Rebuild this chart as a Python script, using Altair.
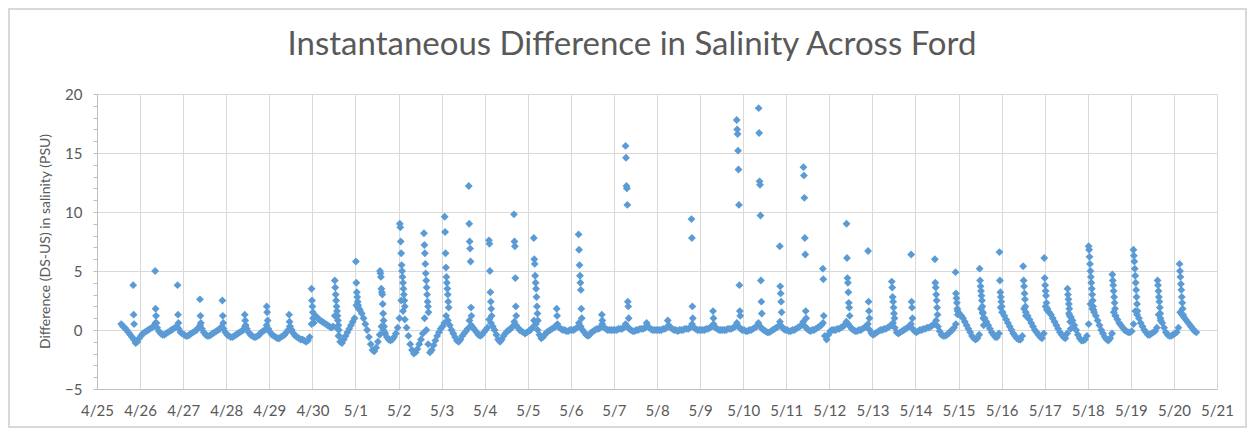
import altair as alt
import pandas as pd

# ---------------------------------------------------------------------------
# Data
# Baseline difference in salinity (PSU), one value per hour
# (00:30, 01:30, ..., 23:30) for each day from 4/25 to 5/20.
# ---------------------------------------------------------------------------
apr25 = [None, None, None, None, None, None, None, None, None, None, None, None,
         None, 0.5, 0.3, 0.2, 0.0, -0.2, -0.4, -0.6, -0.8, -1.1, -1.0, -0.7]
apr26 = [-0.5, -0.3, -0.2, -0.1, 0.0, 0.1, 0.2, 0.3, 0.6, 0.2, -0.1, -0.3,
         -0.4, -0.4, -0.3, -0.2, -0.1, 0.0, 0.1, 0.2, 0.3, 0.1, -0.2, -0.3]
apr27 = [-0.4, -0.5, -0.5, -0.4, -0.3, -0.2, -0.1, 0.0, 0.2, 0.4, 0.1, -0.2,
         -0.4, -0.5, -0.5, -0.4, -0.3, -0.2, -0.1, 0.0, 0.1, 0.3, 0.1, -0.2]
apr28 = [-0.4, -0.5, -0.6, -0.6, -0.5, -0.4, -0.3, -0.2, -0.1, 0.0, 0.3, 0.1,
         -0.2, -0.4, -0.5, -0.6, -0.6, -0.5, -0.4, -0.2, -0.1, 0.0, 0.4, 0.1]
apr29 = [-0.2, -0.4, -0.5, -0.6, -0.7, -0.7, -0.6, -0.5, -0.4, -0.2, 0.0, 0.3,
         0.0, -0.3, -0.5, -0.6, -0.7, -0.8, -0.8, -0.9, -1.0, -0.9, -0.6, 0.5]
apr30 = [1.0, 1.2, 1.1, 0.9, 0.8, 0.7, 0.6, 0.5, 0.4, 0.3, 0.2, 0.3,
         1.2, 0.2, -0.5, -1.0, -1.1, -0.8, -0.5, -0.2, 0.1, 0.4, 0.7, 1.0]
may01 = [2.1, 1.9, 1.7, 1.4, 1.0, 0.5, 0.0, -0.6, -1.2, -1.7, -1.8, -1.5,
         -1.0, -0.4, 0.3, 0.0, -0.3, -0.6, -0.8, -0.9, -0.8, -0.6, -0.3, 0.2]
may02 = [1.0, 2.5, 1.6, 0.9, 0.2, -0.5, -1.2, -1.7, -2.0, -1.9, -1.6, -1.2,
         -0.8, -0.3, 1.0, 0.0, -1.2, -1.9, -1.7, -1.3, -0.9, -0.5, -0.2, 0.1]
may03 = [0.3, 0.6, 1.2, 0.8, 0.4, 0.0, -0.3, -0.6, -0.9, -1.0, -0.8, -0.5,
         -0.3, -0.1, 0.1, 0.8, 0.4, 0.2, 0.0, -0.2, -0.4, -0.5, -0.4, -0.2]
may04 = [0.0, 0.2, 0.9, 0.6, 0.3, 0.0, -0.4, -0.8, -1.0, -0.8, -0.5, -0.3,
         -0.1, 0.0, 0.1, 0.3, 0.7, 0.4, 0.2, 0.0, -0.1, -0.2, -0.3, -0.2]
may05 = [-0.1, 0.0, 0.2, 0.8, 0.5, 0.0, -0.4, -0.7, -0.6, -0.4, -0.2, -0.1,
         0.0, 0.1, 0.2, 0.3, 0.5, 0.2, 0.1, 0.0, 0.0, -0.1, -0.1, 0.0]
may06 = [0.0, 0.0, 0.1, 0.2, 0.6, 0.3, 0.0, -0.2, -0.4, -0.5, -0.4, -0.2,
         -0.1, 0.0, 0.1, 0.1, 0.2, 0.5, 0.2, 0.1, 0.0, 0.0, 0.0, 0.0]
may07 = [0.0, 0.0, 0.1, 0.1, 0.1, 0.2, 0.5, 0.3, 0.1, 0.0, -0.1, -0.1,
         0.0, 0.0, 0.1, 0.1, 0.1, 0.2, 0.4, 0.2, 0.1, 0.0, 0.0, 0.0]
may08 = [0.0, 0.0, 0.0, 0.1, 0.1, 0.2, 0.4, 0.2, 0.1, 0.0, 0.0, -0.1,
         0.0, 0.0, 0.0, 0.1, 0.1, 0.1, 0.2, 0.5, 0.2, 0.1, 0.0, 0.0]
may09 = [0.0, 0.0, 0.0, 0.1, 0.1, 0.2, 0.3, 0.5, 0.2, 0.1, 0.0, 0.0,
         0.0, 0.0, 0.0, 0.1, 0.1, 0.1, 0.2, 0.3, 0.6, 0.3, 0.1, 0.0]
may10 = [0.0, -0.1, -0.1, 0.0, 0.0, 0.1, 0.2, 0.3, 0.6, 0.3, 0.1, 0.0,
         -0.1, -0.2, -0.2, -0.1, 0.0, 0.1, 0.2, 0.3, 0.7, 0.3, 0.1, 0.0]
may11 = [0.0, -0.1, -0.1, 0.0, 0.0, 0.1, 0.2, 0.3, 0.4, 0.7, 0.3, 0.1,
         0.0, -0.1, 0.0, 0.0, 0.1, 0.2, 0.3, 0.4, 0.6, -0.5, -0.8, -0.4]
may12 = [-0.1, 0.0, 0.0, 0.0, 0.1, 0.1, 0.2, 0.3, 0.4, 0.7, 0.5, 0.3,
         0.1, 0.0, -0.1, -0.1, 0.0, 0.0, 0.1, 0.2, 0.3, 0.5, 0.0, -0.3]
may13 = [-0.4, -0.3, -0.2, -0.1, 0.0, 0.0, 0.1, 0.1, 0.2, 0.3, 0.4, 0.6,
         0.2, -0.2, -0.3, -0.2, -0.1, 0.0, 0.1, 0.2, 0.3, 0.5, 0.1, -0.1]
may14 = [-0.2, -0.1, 0.0, 0.0, 0.1, 0.1, 0.2, 0.2, 0.3, 0.4, 0.5, 0.8,
         0.3, -0.1, -0.4, -0.5, -0.5, -0.4, -0.3, -0.1, 0.0, 0.2, 0.5, 1.6]
may15 = [1.4, 1.2, 1.0, 0.7, 0.4, 0.1, -0.2, -0.5, -0.7, -0.8, -0.7, -0.4,
         1.8, 1.4, 1.0, 0.7, 0.4, 0.1, -0.2, -0.4, -0.6, -0.6, -0.3, 1.9]
may16 = [1.5, 1.2, 0.9, 0.6, 0.3, 0.0, -0.3, -0.5, -0.7, -0.8, -0.8, -0.5,
         1.8, 1.5, 1.2, 0.9, 0.6, 0.3, 0.0, -0.2, -0.4, -0.6, -0.7, -0.3]
may17 = [2.0, 1.8, 1.5, 1.3, 1.0, 0.7, 0.4, 0.1, -0.2, -0.4, -0.6, -0.7,
         -0.3, 1.4, 1.1, 0.8, 0.4, 0.0, -0.4, -0.7, -0.9, -0.9, -0.8, -0.5]
may18 = [0.5, 2.2, 1.8, 1.5, 1.2, 0.8, 0.4, 0.0, -0.3, -0.6, -0.8, -0.9,
         -0.7, -0.3, 1.5, 1.2, 0.9, 0.6, 0.4, 0.2, 0.0, -0.1, -0.2, -0.2]
may19 = [-0.1, 0.5, 1.6, 1.3, 1.0, 0.6, 0.3, 0.0, -0.2, -0.4, -0.4, -0.3,
         -0.2, -0.1, 0.2, 1.3, 1.0, 0.6, 0.2, -0.2, -0.4, -0.5, -0.5, -0.4]
may20 = [-0.3, -0.2, 0.2, 1.5, 1.3, 1.1, 0.9, 0.7, 0.5, 0.3, 0.1, -0.1,
         -0.2, None, None, None, None, None, None, None, None, None, None, None]

baseline_days = [apr25, apr26, apr27, apr28, apr29, apr30, may01, may02, may03,
                 may04, may05, may06, may07, may08, may09, may10, may11, may12,
                 may13, may14, may15, may16, may17, may18, may19, may20]

# Flood-tide spikes: start time (days after 4/25 00:00) and the successive
# 15-minute readings (PSU) of each spike.
spike_start = [0.84, 1.35, 1.87, 2.39, 2.91, 3.43, 3.94, 4.46, 4.98, 5.52,
               6.01, 6.57, 7.03, 7.59, 8.07, 8.63, 9.10, 9.68, 10.14, 10.67,
               11.18, 11.72, 12.27, 12.76, 13.25, 13.80, 14.30, 14.85, 15.36,
               15.85, 16.40, 16.85, 17.40, 17.90, 18.45, 18.90, 19.45, 19.93,
               20.49, 20.95, 21.50, 21.99, 22.53, 23.02, 23.57, 24.06, 24.62,
               25.13]
spike_values = [
    [3.8, 1.3, 0.5],
    [5.0, 1.8, 1.2, 0.6],
    [3.8, 1.3, 0.6],
    [2.6, 1.2, 0.6],
    [2.5, 1.2, 0.6],
    [1.3, 0.8, 0.4],
    [2.0, 1.5, 0.8],
    [1.3, 0.7, 0.3],
    [3.5, 2.5, 2.0, 1.5, 1.0, 0.6],
    [4.2, 3.6, 3.0, 2.5, 2.0, 1.6, 1.2, 0.8, 0.4, 0.0, -0.5],
    [5.8, 4.0, 3.2, 2.8, 2.4, 2.1, 1.8],
    [5.0, 4.8, 4.5, 3.5, 3.2, 3.0, 2.2, 1.4, 0.8, 0.3, -0.2],
    [9.0, 8.7, 7.5, 6.5, 5.5, 5.0, 4.5, 4.0, 3.5, 3.0, 2.5, 2.0],
    [8.2, 7.2, 6.5, 5.6, 4.8, 4.2, 3.6, 3.0, 2.4, 2.0, 1.5],
    [9.6, 8.3, 6.5, 5.3, 4.5, 4.0, 3.5, 3.0, 2.4, 1.9],
    [12.2, 9.0, 7.5, 6.9, 5.8, 1.9, 1.2],
    [7.6, 7.3, 5.0, 3.2, 2.4, 1.8, 1.2],
    [9.8, 7.5, 7.1, 4.4, 2.0, 1.2],
    [7.8, 6.0, 5.6, 4.6, 4.0, 3.5, 2.8, 2.0, 1.4, 0.8],
    [1.8, 1.2],
    [8.1, 6.8, 5.5, 4.6, 4.0, 3.4, 1.8, 1.0],
    [1.3, 0.8],
    [15.6, 14.6, 12.2, 12.0, 10.6, 2.4, 2.0, 1.0],
    [0.6],
    [0.8],
    [9.4, 7.8, 2.0, 1.0],
    [1.6, 1.0],
    [17.8, 17.0, 16.6, 15.2, 13.6, 10.6, 3.8, 1.6, 1.2],
    [18.8, 16.7, 12.6, 12.3, 9.7, 4.2, 2.4, 1.4],
    [7.1, 3.7, 3.1, 2.4, 1.5],
    [13.8, 13.1, 11.2, 7.8, 6.4, 1.6, 1.0],
    [5.2, 4.3, 1.2],
    [9.0, 6.1, 4.4, 4.0, 3.2, 2.3, 1.9, 1.2],
    [6.7, 2.4, 1.6, 1.0],
    [4.1, 3.6, 2.8, 2.4, 1.9, 1.4, 1.0],
    [6.4, 2.4, 1.9, 1.0],
    [6.0, 4.0, 3.6, 3.0, 2.5, 1.9, 1.3],
    [4.9, 3.1, 2.7, 2.3, 1.8, 1.3],
    [5.2, 4.2, 3.7, 3.3, 2.9, 2.5, 2.0, 1.5, 1.0, 0.4],
    [6.6, 4.2, 3.2, 2.8, 2.4, 2.0, 1.5],
    [5.4, 4.2, 3.7, 3.1, 2.6, 2.0, 1.2],
    [6.1, 4.4, 3.8, 3.3, 2.9, 2.3, 1.7],
    [3.5, 3.0, 2.6, 2.2, 1.8, 1.2, 0.7, 0.1],
    [7.1, 6.8, 6.2, 5.6, 5.0, 4.5, 4.0, 3.5, 3.0, 2.5, 2.0, 1.7],
    [4.7, 4.2, 3.8, 3.3, 2.8, 2.3, 1.8, 1.2],
    [6.8, 6.3, 5.8, 5.2, 4.6, 4.0, 3.4, 2.8, 2.2, 1.6],
    [4.2, 3.8, 3.3, 2.8, 2.4, 1.9, 1.4, 0.8],
    [5.6, 5.0, 4.5, 3.9, 3.4, 2.8, 2.3, 1.8, 1.3],
]

x_labels_format = "%-m/%-d"
title_text = "Instantaneous Difference in Salinity Across Ford"
y_title = "Difference (DS-US) in salinity (PSU)"

# ---------------------------------------------------------------------------
start = pd.Timestamp("2019-04-25 00:00:00")
rows = []
for d, vals in enumerate(baseline_days):
    for h, v in enumerate(vals):
        if v is None:
            continue
        rows.append({"t": start + pd.Timedelta(days=d, hours=h, minutes=30), "diff": v})
for t0, vals in zip(spike_start, spike_values):
    for k, v in enumerate(vals):
        rows.append({"t": start + pd.Timedelta(days=t0) + pd.Timedelta(minutes=15 * k),
                     "diff": v})
df = pd.DataFrame(rows).sort_values("t")
df["t"] = df["t"].dt.strftime("%Y-%m-%dT%H:%M:%S")

FONT = "Lato"
GRAY_TXT = "#595959"
GRID = "#d9d9d9"
W, H = 1120, 295

x_axis = alt.Axis(
    format=x_labels_format,
    tickCount={"interval": "day", "step": 1},
    grid=True, gridColor=GRID, gridWidth=1,
    domainColor="#bfbfbf", ticks=False,
    labelPadding=14, labelFontSize=15, labelColor=GRAY_TXT, labelFont=FONT,
    labelFlush=False, labelOverlap=False, title=None,
)
y_axis = alt.Axis(
    values=list(range(-5, 21)),
    labelExpr="datum.value % 5 === 0 ? datum.label : ''",
    gridColor={"condition": {"test": "datum.value % 5 === 0", "value": GRID},
               "value": "transparent"},
    tickSize=4, tickColor="#bfbfbf", domainColor="#bfbfbf",
    labelPadding=11, labelFontSize=15, labelColor=GRAY_TXT, labelFont=FONT,
    title=y_title, titleFont=FONT, titleFontSize=14, titleFontWeight="normal",
    titleColor=GRAY_TXT, titleAngle=270, titleX=-52, titleY=147,
    titleBaseline="middle", titleAlign="center",
)

points = alt.Chart(df).mark_point(
    shape="diamond", filled=True, size=62, color="#5b9bd5", opacity=1
).encode(
    x=alt.X("t:T", scale=alt.Scale(domain=["2019-04-25T00:00:00", "2019-05-21T00:00:00"]),
            axis=x_axis),
    y=alt.Y("diff:Q", scale=alt.Scale(domain=[-5, 20], nice=False), axis=y_axis),
)

# light frame around the whole chart area (as in the spreadsheet chart)
frame = alt.Chart(pd.DataFrame({"frame": [0]})).mark_rect(
    fill=None, stroke="#d9d9d9", strokeWidth=2, clip=False
).encode(
    x=alt.value(-88), x2=alt.value(W + 29),
    y=alt.value(-85), y2=alt.value(H + 38),
)

chart = alt.layer(points, frame).properties(
    width=W, height=H,
    autosize="none",
    padding={"left": 89, "top": 86, "right": 30, "bottom": 40},
    title=alt.Title(title_text, font=FONT, fontSize=33, fontWeight="normal",
                    color=GRAY_TXT, anchor="middle", frame="group", dx=-25,
                    offset=-80, baseline="alphabetic"),
).configure_view(stroke=None).configure(background="white")

chart.save("out.html", embed_options={"renderer": "svg", "actions": False})
